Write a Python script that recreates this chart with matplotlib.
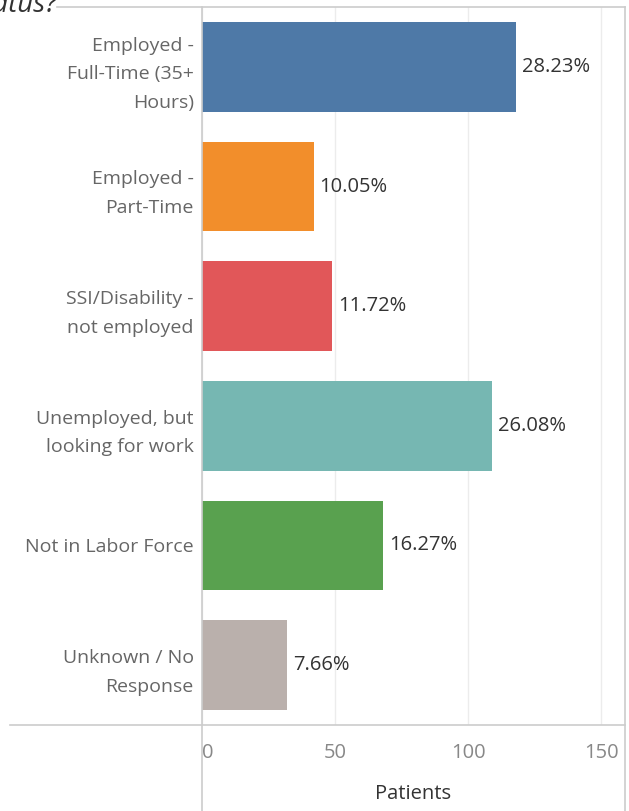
import matplotlib.pyplot as plt
from matplotlib.lines import Line2D

# data
categories = ["Employed -\nFull-Time (35+\nHours)", "Employed -\nPart-Time",
              "SSI/Disability -\nnot employed", "Unemployed, but\nlooking for work",
              "Not in Labor Force", "Unknown / No\nResponse"]
patients = [118, 42, 49, 109, 68, 32]
pct_labels = ["28.23%", "10.05%", "11.72%", "26.08%", "16.27%", "7.66%"]
colors = ["#4e79a7", "#f28e2b", "#e15759", "#76b7b2", "#59a14f", "#bab0ac"]
xticks = [0, 50, 100, 150]

W, H = 629, 811
fig = plt.figure(figsize=(W / 100, H / 100), dpi=100)
plt.rcParams['font.family'] = ['Open Sans', 'DejaVu Sans']

left, right, top, bottom = 202, 625, 7, 725
ax = fig.add_axes([left / W, 1 - bottom / H, (right - left) / W, (bottom - top) / H])

ypos = list(range(len(categories)))
ax.barh(ypos, patients, height=0.75, color=colors, zorder=3)
for y, v, lab in zip(ypos, patients, pct_labels):
    ax.text(v + 2.2, y, lab, va='center', ha='left', fontsize=14.5, color='#333333')

ax.set_ylim(len(categories) - 0.5, -0.5)
ax.set_xlim(0, 159)
ax.set_yticks(ypos)
ax.set_yticklabels(categories, fontsize=14, color='#666666', linespacing=1.75)
ax.tick_params(axis='y', length=0, pad=6)
ax.set_xticks(xticks)
ax.set_xticklabels([str(t) for t in xticks], fontsize=14.5, color='#888888')
ax.tick_params(axis='x', length=0, pad=13)
ax.get_xticklabels()[0].set_horizontalalignment('left')
ax.grid(axis='x', color='#ececec', linewidth=1, zorder=0)
for s in ax.spines.values():
    s.set_visible(False)
ax.set_xlabel("Patients", fontsize=14.5, color='#333333', labelpad=15)

# frame lines like the dashboard panel
def fline(x0, y0, x1, y1):
    fig.add_artist(Line2D([x0 / W, x1 / W], [1 - y0 / H, 1 - y1 / H],
                          color='#cccccc', linewidth=1.2))

fline(57, 7, 625, 7)
fline(10, 725, 625, 725)
fline(202, 7, 202, 811)
fline(625, 7, 625, 811)

fig.text(57 / W, 1 - 12 / H, "Employment Status?", ha='right', va='baseline',
         fontsize=20, style='italic', color='#333333')

fig.savefig("out.png", dpi=100)
